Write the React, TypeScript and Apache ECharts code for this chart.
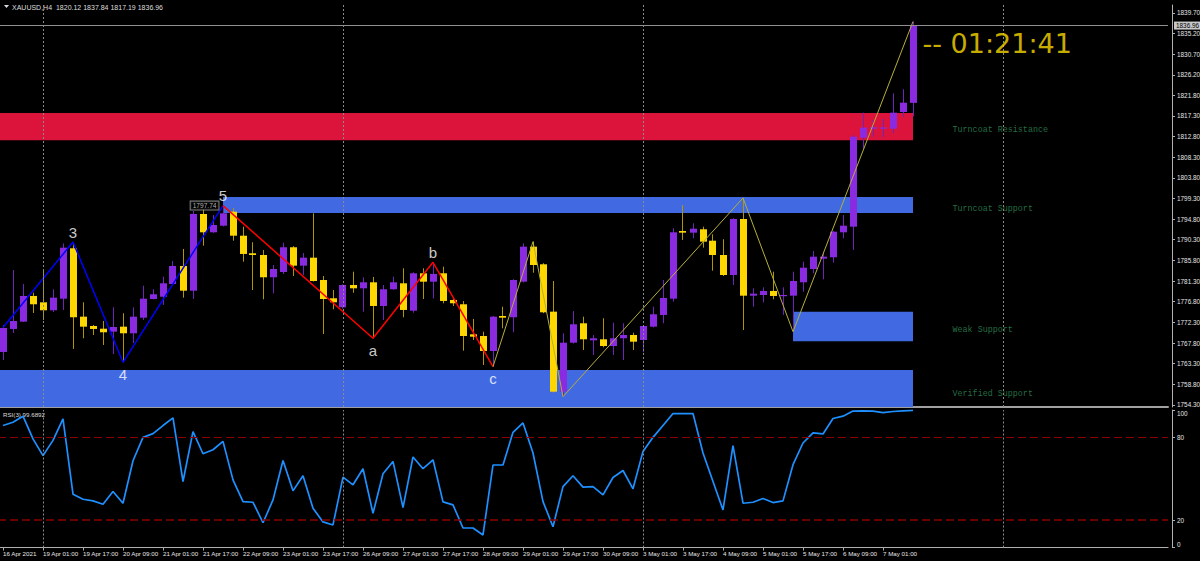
import React, { useEffect, useRef } from 'react';
import * as echarts from 'echarts';

// ---------- categories (H4 bars) ----------
const tradingDays = ['16 Apr', '19 Apr', '20 Apr', '21 Apr', '22 Apr', '23 Apr', '26 Apr', '27 Apr', '28 Apr', '29 Apr', '30 Apr', '3 May', '4 May', '5 May', '6 May', '7 May'];
const sessionHours = ['01:00', '05:00', '09:00', '13:00', '17:00', '21:00'];
const firstLabel = '16 Apr 2021';
const futureSlots = 25;

// ---------- OHLC ----------
const opens = [1765.85, 1770.86, 1772.45, 1778.05, 1776.67, 1774.93, 1777.46, 1788.44, 1773.54, 1771.51,
  1770.92, 1770.27, 1771.36, 1769.92, 1773.32, 1777.39, 1777.89, 1780.66, 1784.58, 1779.20,
  1795.91, 1791.92, 1793.36, 1796.41, 1791.18, 1787.35, 1786.98, 1782.12, 1783.27, 1788.66,
  1784.65, 1786.39, 1781.53, 1777.54, 1775.58, 1780.44, 1779.72, 1781.03, 1775.87, 1779.51,
  1780.81, 1774.84, 1782.99, 1781.16, 1782.99, 1777.17, 1776.24, 1769.70, 1769.33, 1766.06,
  1773.69, 1773.41, 1781.16, 1788.79, 1784.95, 1774.63, 1757.20, 1767.87, 1772.10, 1768.39,
  1768.61, 1767.15, 1768.83, 1769.55, 1768.46, 1771.36, 1773.91, 1777.46, 1792.21, 1791.84,
  1792.58, 1790.09, 1786.98, 1782.62, 1794.82, 1778.11, 1778.26, 1779.14, 1778.05, 1778.11,
  1781.03, 1783.93, 1786.17, 1786.48, 1791.92, 1793.14, 1812.53, 1814.49, 1814.60, 1814.49,
  1818.13, 1820.12];
const closes = [1771.07, 1772.60, 1778.05, 1776.24, 1774.93, 1777.68, 1788.57, 1773.41, 1771.36, 1770.86,
  1770.14, 1771.29, 1769.92, 1773.54, 1777.46, 1778.42, 1780.81, 1784.58, 1779.20, 1795.91,
  1791.92, 1793.51, 1796.06, 1791.18, 1787.20, 1786.98, 1782.12, 1783.93, 1788.66, 1784.65,
  1786.39, 1781.31, 1777.39, 1776.67, 1780.44, 1779.72, 1781.03, 1775.87, 1779.51, 1781.03,
  1775.00, 1782.99, 1781.16, 1782.84, 1776.96, 1776.46, 1769.33, 1769.18, 1766.06, 1773.54,
  1773.32, 1781.53, 1788.79, 1784.80, 1774.49, 1757.20, 1767.87, 1771.88, 1768.61, 1768.83,
  1767.15, 1768.83, 1769.55, 1768.09, 1771.51, 1774.06, 1777.61, 1791.92, 1791.84, 1792.71,
  1789.88, 1786.98, 1782.62, 1794.82, 1778.11, 1778.55, 1779.14, 1778.05, 1778.26, 1781.31,
  1784.21, 1786.61, 1786.61, 1792.05, 1793.36, 1812.75, 1814.71, 1814.80, 1814.75, 1817.98,
  1820.16, 1836.96];
const lows = [1764.10, 1769.98, 1772.38, 1774.34, 1772.82, 1774.56, 1775.00, 1766.50, 1768.83, 1769.55,
  1767.37, 1765.41, 1763.60, 1767.81, 1772.82, 1777.30, 1776.09, 1780.50, 1777.68, 1777.39,
  1789.00, 1791.80, 1793.20, 1790.09, 1785.52, 1779.35, 1777.33, 1778.63, 1782.84, 1782.40,
  1782.62, 1781.20, 1769.77, 1775.15, 1775.30, 1778.76, 1774.63, 1768.83, 1772.82, 1779.40,
  1773.41, 1774.41, 1777.39, 1777.54, 1776.46, 1775.87, 1766.13, 1768.46, 1763.01, 1762.64,
  1771.01, 1770.14, 1781.00, 1783.12, 1774.30, 1757.00, 1756.11, 1767.70, 1766.28, 1765.19,
  1766.87, 1765.19, 1764.10, 1766.28, 1765.78, 1771.20, 1772.10, 1776.80, 1790.25, 1790.62,
  1788.57, 1783.56, 1782.40, 1780.44, 1770.64, 1775.71, 1776.67, 1777.33, 1773.91, 1770.27,
  1778.98, 1782.99, 1781.68, 1785.30, 1790.62, 1788.07, 1810.22, 1812.75, 1812.62, 1813.49,
  1817.11, 1817.19];
const highs = [1771.73, 1783.71, 1780.66, 1778.76, 1783.49, 1779.51, 1789.50, 1789.80, 1776.67, 1771.73,
  1772.60, 1775.58, 1774.28, 1775.58, 1780.29, 1779.51, 1782.25, 1785.67, 1788.29, 1796.56,
  1797.00, 1795.69, 1797.74, 1797.20, 1793.14, 1789.75, 1788.07, 1784.80, 1789.66, 1788.90,
  1787.41, 1796.06, 1782.40, 1779.35, 1780.60, 1783.34, 1782.12, 1782.19, 1780.44, 1782.25,
  1784.08, 1783.20, 1784.08, 1785.39, 1784.43, 1777.83, 1776.96, 1773.04, 1770.27, 1773.70,
  1775.71, 1781.70, 1789.53, 1789.88, 1785.20, 1781.31, 1769.92, 1774.78, 1773.54, 1769.55,
  1773.19, 1772.23, 1772.10, 1770.05, 1771.70, 1775.71, 1781.53, 1792.80, 1797.87, 1793.88,
  1793.14, 1791.49, 1790.40, 1795.00, 1799.40, 1779.72, 1779.94, 1783.34, 1779.94, 1783.34,
  1785.52, 1787.85, 1787.70, 1792.20, 1795.69, 1813.12, 1817.98, 1816.39, 1816.60, 1822.21,
  1823.08, 1837.84];

// ---------- RSI(3) ----------
const rsi = [88.7, 91.1, 95.5, 79.0, 66.8, 77.9, 93.6, 38.8, 35.1, 33.9,
  31.5, 40.7, 32.2, 63.1, 80.1, 82.8, 88.7, 94.3, 48.0, 84.3,
  68.2, 71.1, 77.2, 49.2, 33.4, 32.9, 18.0, 34.6, 63.3, 41.2,
  52.2, 28.6, 18.6, 16.4, 51.2, 45.6, 57.3, 24.9, 53.6, 62.6,
  29.0, 65.8, 57.3, 63.8, 33.2, 31.0, 14.2, 14.2, 9.1, 60.0,
  60.0, 83.8, 90.6, 68.7, 33.4, 15.1, 44.3, 52.2, 43.9, 44.3,
  38.3, 50.9, 56.0, 42.7, 69.9, 80.1, 88.7, 97.4, 97.4, 97.4,
  68.7, 48.0, 27.3, 74.1, 32.2, 32.9, 35.6, 32.7, 33.9, 60.2,
  76.0, 83.3, 82.6, 93.8, 95.5, 99.2, 99.3, 99.2, 98.1, 98.9,
  99.3, 99.69];
const rsiLevels = [80, 20];
const rsiTicks = [0, 20, 80, 100];

// ---------- price axis ----------
const priceTicks = [1839.70, 1835.20, 1830.70, 1826.20, 1821.80, 1817.30, 1812.80, 1808.30, 1803.80, 1799.30,
  1794.80, 1790.30, 1785.80, 1781.30, 1776.80, 1772.30, 1767.80, 1763.30, 1758.80, 1754.30];
const priceMin = 1753.86;
const priceMax = 1841.44;
const bidPrice = 1836.96;

// ---------- zones ----------
const zoneNames = ['Turncoat Resistance', 'Turncoat Support', 'Weak Support', 'Verified Support'];
const zoneStart: (number | null)[] = [null, 22, 79, null];
const zoneEnd = [91, 91, 91, 91];
const zoneHigh = [1817.9, 1799.6, 1774.6, 1761.9];
const zoneLow = [1812.0, 1796.1, 1768.2, 1753.2];
const zoneColors = ['#DC143C', '#4169E1', '#4169E1', '#4169E1'];
const zoneLabelSlot = 95;

// ---------- wave lines ----------
const impulseIdx = [0, 7, 12, 22];
const impulsePx = [1771.2, 1789.80, 1763.60, 1797.74];
const correctionIdx = [22, 37, 43, 49];
const correctionPx = [1797.74, 1768.83, 1785.39, 1762.64];
const zigzagIdx = [49, 53, 56, 74, 79, 91];
const zigzagPx = [1762.64, 1789.88, 1756.11, 1799.40, 1770.27, 1837.84];

const waveLabelText = ['3', '4', '5', 'a', 'b', 'c'];
const waveLabelIdx = [7, 12, 22, 37, 43, 49];
const waveLabelPx = [1789.80, 1763.60, 1797.74, 1768.83, 1785.39, 1762.64];
const waveLabelAbove = [true, false, true, false, true, false];

const separatorIdx = [4, 34, 64, 100];
const timerText = '-- 01:21:41';
const timerSlot = 92;

const barTimes: string[] = [];
tradingDays.forEach((d, di) => sessionHours.forEach((h, hi) => {
  if (di === 0 && hi < 2) return;
  if (di === tradingDays.length - 1 && hi > 3) return;
  barTimes.push(`${d} ${h}`);
}));
const categories = barTimes.concat(Array.from({ length: futureSlots }, () => ''));
const nBars = barTimes.length;

const FONT = 'Liberation Sans';
const AXIS_TXT = '#e6e6e6';
const BULL = '#8A2BE2';
const BEAR = '#FFD700';
const BULL_WICK = '#6E24B8';
const BEAR_WICK = '#B09600';

export default function App() {
  const ref = useRef<HTMLDivElement>(null);
  useEffect(() => {
    document.body.style.margin = '0';
    document.body.style.background = '#000';
    const chart = echarts.init(ref.current!, null, { renderer: 'svg' });

    const gridLeft = -2;
    const gridWidth = 1170;

    const option: any = {
      animation: false,
      backgroundColor: '#000000',
      grid: [
        { left: gridLeft, width: gridWidth, top: 5, height: 402, containLabel: false, outerBoundsMode: 'none' },
        { left: gridLeft, width: gridWidth, top: 410, height: 137.5, containLabel: false, outerBoundsMode: 'none' },
      ],
      xAxis: [
        {
          type: 'category', gridIndex: 0, data: categories, boundaryGap: true,
          axisLine: { show: true, lineStyle: { color: '#a0a0a0', width: 2 } },
          axisTick: { show: false }, axisLabel: { show: false }, splitLine: { show: false },
        },
        {
          type: 'category', gridIndex: 1, data: categories, boundaryGap: true,
          axisLine: { show: true, lineStyle: { color: '#b0b0b0', width: 1 } },
          axisTick: {
            show: true, alignWithLabel: true, length: 3, lineStyle: { color: '#b0b0b0' },
            interval: (i: number) => i % 4 === 0 && i < nBars,
          },
          axisLabel: {
            show: true, color: AXIS_TXT, fontSize: 6.2, fontFamily: FONT, align: 'left', margin: 3,
            interval: (i: number) => i % 4 === 0 && i < nBars,
            formatter: (v: string, i: number) => (i === 0 ? firstLabel : v),
          },
          splitLine: { show: false },
        },
      ],
      yAxis: [
        {
          type: 'value', gridIndex: 0, position: 'right', offset: 4, min: priceMin, max: priceMax,
          axisLine: { show: true, lineStyle: { color: '#b0b0b0' } },
          axisTick: { show: true, length: 3, customValues: priceTicks, lineStyle: { color: '#b0b0b0' } },
          axisLabel: {
            show: true, customValues: priceTicks, color: AXIS_TXT, fontSize: 6.4, fontFamily: FONT, margin: 5,
            formatter: (v: number) => v.toFixed(2),
          },
          splitLine: { show: false },
        },
        {
          type: 'value', gridIndex: 1, position: 'right', offset: 4, min: 0, max: 100,
          axisLine: { show: true, lineStyle: { color: '#b0b0b0' } },
          axisTick: { show: true, length: 3, customValues: rsiTicks, lineStyle: { color: '#b0b0b0' } },
          axisLabel: {
            show: true, customValues: rsiTicks, color: AXIS_TXT, fontSize: 6.4, fontFamily: FONT, margin: 5,
            verticalAlignMinLabel: 'bottom', verticalAlignMaxLabel: 'top',
            formatter: (v: number) => String(v),
          },
          splitLine: { show: false },
        },
      ],
      series: [
        {
          type: 'custom', name: 'zones', xAxisIndex: 0, yAxisIndex: 0, z: 1, clip: true, silent: true,
          data: zoneNames.map((_, i) => [zoneEnd[i], zoneHigh[i], zoneLow[i], i]),
          renderItem: (params: any, api: any) => {
            const i = api.value(3);
            const cs = params.coordSys;
            const s = zoneStart[i];
            const x0 = s === null ? cs.x : api.coord([s, zoneHigh[i]])[0];
            const x1 = api.coord([zoneEnd[i], zoneHigh[i]])[0];
            const y0 = api.coord([0, zoneHigh[i]])[1];
            const y1 = api.coord([0, zoneLow[i]])[1];
            return {
              type: 'rect',
              shape: { x: x0, y: y0, width: x1 - x0, height: y1 - y0 },
              style: { fill: zoneColors[i] },
            };
          },
          markLine: {
            silent: true, symbol: 'none', label: { show: false },
            lineStyle: { type: [2, 2], color: '#8a8a8a', width: 1 },
            data: separatorIdx.map((x) => ({ xAxis: x })),
          },
        },
        {
          type: 'custom', name: 'XAUUSD,H4', xAxisIndex: 0, yAxisIndex: 0, z: 3, silent: true, clip: true,
          data: opens.map((o, i) => [i, o, closes[i], lows[i], highs[i]]),
          encode: { x: 0, y: [1, 2, 3, 4] },
          renderItem: (params: any, api: any) => {
            const i = api.value(0);
            const o = api.value(1), c = api.value(2), l = api.value(3), h = api.value(4);
            const pO = api.coord([i, o]);
            const pC = api.coord([i, c]);
            const yH = api.coord([i, h])[1];
            const yL = api.coord([i, l])[1];
            const cx = Math.round(pO[0] - 0.5);
            const bull = c >= o;
            const top = Math.min(pO[1], pC[1]);
            let hgt = Math.abs(pO[1] - pC[1]);
            if (hgt < 1.2) hgt = 1.2;
            return {
              type: 'group',
              children: [
                { type: 'line', shape: { x1: cx + 0.5, y1: yH, x2: cx + 0.5, y2: yL }, style: { stroke: bull ? BULL_WICK : BEAR_WICK, lineWidth: 1 } },
                { type: 'rect', shape: { x: cx - 3, y: top, width: 7, height: hgt }, style: { fill: bull ? BULL : BEAR } },
              ],
            };
          },
          markLine: {
            silent: true, symbol: 'none',
            lineStyle: { type: 'solid', color: '#909090', width: 1 },
            label: {
              show: true, position: 'end', distance: 6, formatter: bidPrice.toFixed(2),
              color: '#000000', backgroundColor: '#c8c8c8', padding: [1, 2], fontSize: 6.4, fontFamily: FONT,
            },
            data: [{ yAxis: bidPrice }],
          },
        },
        {
          type: 'line', name: 'impulse', xAxisIndex: 0, yAxisIndex: 0, z: 4, silent: true, symbol: 'none',
          data: impulseIdx.map((x, i) => [x, impulsePx[i]]),
          lineStyle: { color: '#0000FF', width: 1.5 },
        },
        {
          type: 'line', name: 'correction', xAxisIndex: 0, yAxisIndex: 0, z: 4, silent: true, symbol: 'none',
          data: correctionIdx.map((x, i) => [x, correctionPx[i]]),
          lineStyle: { color: '#FF0000', width: 1.5 },
        },
        {
          type: 'line', name: 'zigzag', xAxisIndex: 0, yAxisIndex: 0, z: 4, silent: true, symbol: 'none',
          data: zigzagIdx.map((x, i) => [x, zigzagPx[i]]),
          lineStyle: { color: '#B5B03A', width: 1 },
        },
        {
          type: 'scatter', name: 'labels', xAxisIndex: 0, yAxisIndex: 0, z: 6, silent: true,
          symbolSize: 1, itemStyle: { color: 'rgba(0,0,0,0)' },
          data: [
            ...waveLabelText.map((t, i) => ({
              value: [waveLabelIdx[i], waveLabelPx[i]],
              label: {
                show: true, formatter: t, position: waveLabelAbove[i] ? 'top' : 'bottom',
                distance: waveLabelAbove[i] ? 2 : 4,
                color: '#ffffff', fontSize: 15, fontFamily: FONT,
              },
            })),
            {
              value: [22, 1797.74],
              label: {
                show: true, formatter: '1797.74', position: 'left', distance: 4,
                color: '#dddddd', fontSize: 6.6, fontFamily: FONT,
                borderColor: '#a0a0a0', borderWidth: 1, padding: [1, 2, 0, 2], backgroundColor: '#000',
              },
            },
            {
              value: [timerSlot, bidPrice],
              label: {
                show: true, formatter: timerText, position: [0, 0], align: 'left', verticalAlign: 'top',
                offset: [0, 5],
                color: '#FFDD00', fontSize: 27, fontFamily: 'DejaVu Sans',
              },
            },
            ...zoneNames.map((t, i) => ({
              value: [zoneLabelSlot, (zoneHigh[i] + zoneLow[i]) / 2],
              label: {
                show: true, formatter: t, position: [0, 0], align: 'left', verticalAlign: 'top',
                color: '#2E8B57', fontSize: 8.4, fontFamily: 'Liberation Mono',
              },
            })),
          ],
        },
        {
          type: 'line', name: 'RSI(3)', xAxisIndex: 1, yAxisIndex: 1, z: 4, silent: true, symbol: 'none',
          data: rsi,
          lineStyle: { color: '#1E90FF', width: 1.7 },
          markLine: {
            silent: true, symbol: 'none', label: { show: false },
            data: [
              ...rsiLevels.map((v, i) => ({ yAxis: v, lineStyle: { type: [8, 4], color: '#8B0000', width: i === 0 ? 1 : 1.5 } })),
              ...separatorIdx.map((x) => ({ xAxis: x, lineStyle: { type: [2, 2], color: '#8a8a8a', width: 1 } })),
            ],
          },
        },
      ],
      graphic: [
        { type: 'polygon', shape: { points: [[4, 5], [9, 5], [6.5, 8]] }, style: { fill: '#dddddd' } },
        {
          type: 'text', x: 12, y: 7,
          style: { text: 'XAUUSD,H4  1820.12 1837.84 1817.19 1836.96', fill: '#dddddd', fontSize: 7, fontFamily: FONT, verticalAlign: 'middle' },
        },
        {
          type: 'text', x: 3, y: 414,
          style: { text: 'RSI(3) 99.6892', fill: '#dddddd', fontSize: 6.2, fontFamily: FONT, verticalAlign: 'middle' },
        },
      ],
    };
    chart.setOption(option);
    return () => chart.dispose();
  }, []);
  return <div ref={ref} style={{ position: 'absolute', left: 0, top: 0, width: 1200, height: 561, background: '#000' }} />;
}
